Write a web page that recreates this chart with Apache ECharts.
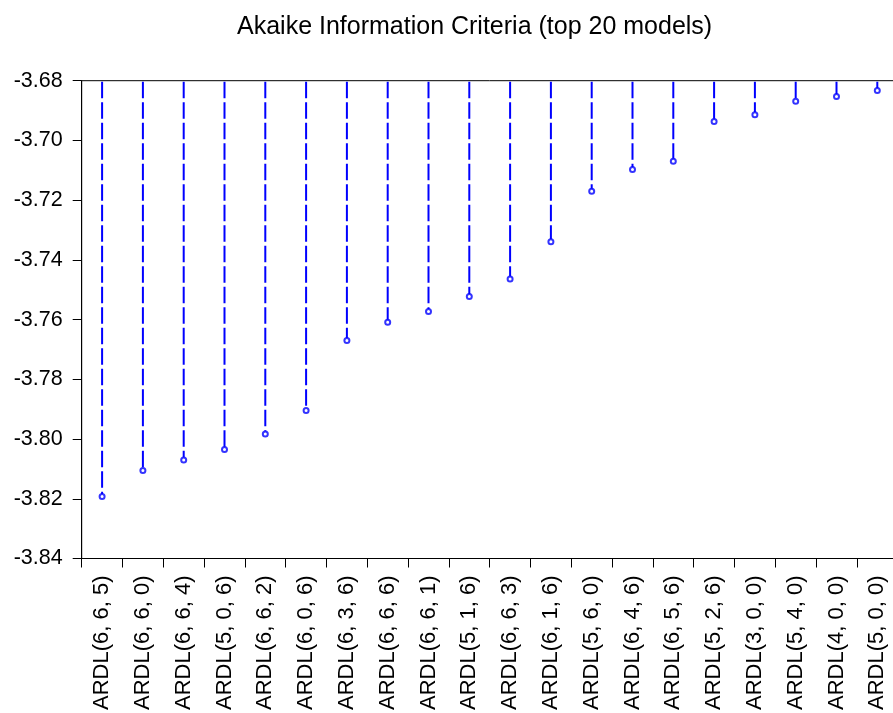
<!DOCTYPE html>
<html>
<head>
<meta charset="utf-8">
<script src="https://cdn.jsdelivr.net/npm/echarts@6/dist/echarts.min.js"></script>
<style>
    html, body { margin: 0; padding: 0; background: #fff; overflow: hidden; }
    /* the plot in the original runs a few pixels past the right edge */
    #chart { width: 898px; height: 713px; }
</style>
</head>
<body>
<div id="chart"></div>
<script>
// models, sorted by AIC (best first)
const models = [
    "ARDL(6, 6, 5)", "ARDL(6, 6, 0)", "ARDL(6, 6, 4)", "ARDL(5, 0, 6)", "ARDL(6, 6, 2)",
    "ARDL(6, 0, 6)", "ARDL(6, 3, 6)", "ARDL(6, 6, 6)", "ARDL(6, 6, 1)", "ARDL(5, 1, 6)",
    "ARDL(6, 6, 3)", "ARDL(6, 1, 6)", "ARDL(5, 6, 0)", "ARDL(6, 4, 6)", "ARDL(6, 5, 6)",
    "ARDL(5, 2, 6)", "ARDL(3, 0, 0)", "ARDL(5, 4, 0)", "ARDL(4, 0, 0)", "ARDL(5, 0, 0)"
];
const aic = [
    -3.8192, -3.8105, -3.8070, -3.8035, -3.7983,
    -3.7904, -3.7670, -3.7609, -3.7573, -3.7523,
    -3.7464, -3.7339, -3.7170, -3.7097, -3.7070,
    -3.6937, -3.6914, -3.6869, -3.6853, -3.6833
];
const yMin = -3.84;
const yMax = -3.68;
const yStep = 0.02;

const font = "Liberation Sans, Arial, sans-serif";
let chart = echarts.init(document.getElementById("chart"));

const points = aic.map((v, i) => [i, v]);

const option = {
    animation: false,
    title: {
        text: "Akaike Information Criteria (top 20 models)",
        left: 232,
        top: 10,
        textStyle: { fontFamily: font, fontSize: 25, fontWeight: "normal", color: "#000" }
    },
    grid: {
        left: 81.7,
        top: 80.7,
        bottom: 152,
        right: 0.3,
        show: true,
        borderColor: "#000",
        borderWidth: 1
    },
    xAxis: {
        type: "category",
        data: models,
        boundaryGap: true,
        axisLine: { lineStyle: { color: "#000", width: 1 } },
        axisTick: { show: true, length: 9, alignWithLabel: false, lineStyle: { color: "#000" } },
        axisLabel: {
            rotate: 90,
            margin: 17,
            interval: 0,
            color: "#000",
            fontFamily: font,
            fontSize: 22
        },
        splitLine: { show: false }
    },
    yAxis: {
        type: "value",
        min: yMin,
        max: yMax,
        interval: yStep,
        axisLine: { show: true, lineStyle: { color: "#000", width: 1 } },
        axisTick: { show: true, length: 9, lineStyle: { color: "#000" } },
        axisLabel: {
            margin: 19,
            color: "#000",
            fontFamily: font,
            fontSize: 21.5,
            formatter: v => v.toFixed(2)
        },
        splitLine: { show: false }
    },
    series: [
        {
            // dashed stems from top of the axis down to each value
            type: "custom",
            data: points,
            encode: { x: 0, y: 1 },
            renderItem: function (params, api) {
                const top = api.coord([api.value(0), yMax]);
                const pt = api.coord([api.value(0), api.value(1)]);
                return {
                    type: "line",
                    shape: { x1: top[0], y1: top[1] + 1, x2: pt[0], y2: pt[1] - 2.5 },
                    style: { stroke: "#0000ff", lineWidth: 2, lineDash: [16.5, 4] }
                };
            },
            z: 2
        },
        {
            type: "scatter",
            data: points,
            symbol: "emptyCircle",
            symbolSize: 5,
            itemStyle: { color: "#0000ff", borderColor: "#0000ff", borderWidth: 1.5 },
            z: 3
        }
    ]
};

chart.setOption(option);
</script>
</body>
</html>
